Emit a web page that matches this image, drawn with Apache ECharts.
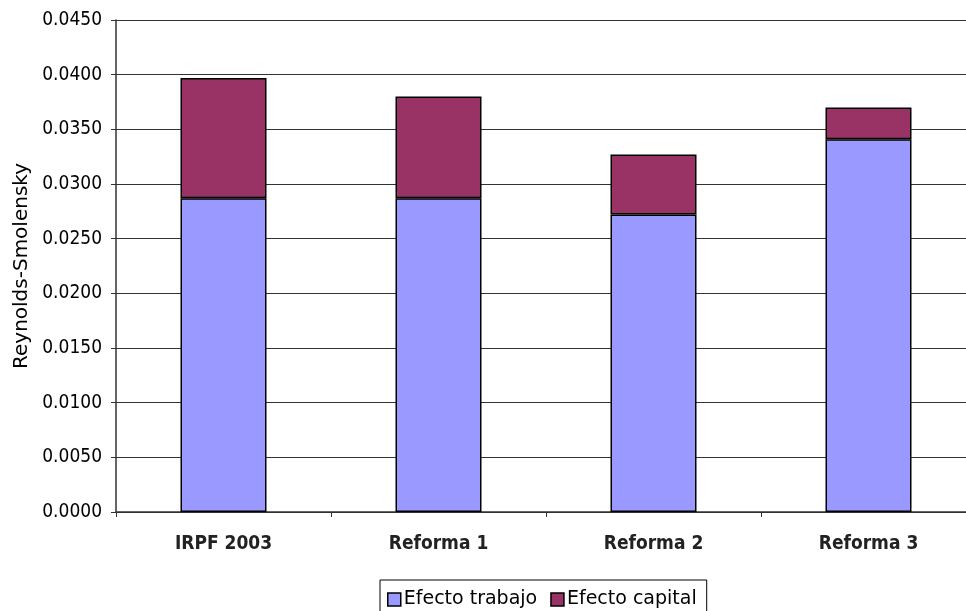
<!DOCTYPE html>
<html>
<head>
<meta charset="utf-8">
<script src="https://cdn.jsdelivr.net/npm/echarts@6/dist/echarts.min.js"></script>
<style>
  html, body { margin: 0; padding: 0; background: #fff; }
  #chart { width: 966px; height: 611px; }
</style>
</head>
<body>
<div id="chart"></div>
<script>
// Reynolds-Smolensky index split into labour and capital effects
const categories = ['IRPF 2003', 'Reforma 1', 'Reforma 2', 'Reforma 3'];
const efectoTrabajo = [0.0287, 0.0287, 0.0272, 0.0341];
const efectoCapital = [0.0110, 0.0093, 0.0055, 0.0029];
const seriesNames = ['Efecto trabajo', 'Efecto capital'];
const yAxisTitle = 'Reynolds-Smolensky';

const FONT = '"DejaVu Sans", Verdana, sans-serif';
const FONT_NARROW = '"DejaVu Sans Condensed", "DejaVu Sans", sans-serif';

const chart = echarts.init(document.getElementById('chart'), null, { renderer: 'canvas' });

chart.setOption({
  animation: false,
  backgroundColor: '#ffffff',
  // plot area runs slightly past the right edge of the canvas
  grid: {
    left: 116, top: 20, width: 860, height: 492,
    containLabel: false, outerBoundsMode: 'none'
  },
  legend: {
    data: seriesNames,
    left: 380,
    top: 580,
    itemWidth: 13,
    itemHeight: 13,
    itemGap: 13,
    padding: [10, 10, 14, 7],
    borderColor: '#000',
    borderWidth: 1,
    borderRadius: 0,
    icon: 'rect',
    itemStyle: { borderColor: '#000', borderWidth: 1.5 },
    textStyle: { fontFamily: FONT, fontSize: 19, color: '#000', padding: [0, 0, 0, -2] }
  },
  xAxis: {
    type: 'category',
    data: categories,
    axisLine: { lineStyle: { color: '#333', width: 1.5 } },
    axisTick: { show: true, alignWithLabel: false, length: 5, lineStyle: { color: '#333' } },
    axisLabel: { fontFamily: FONT_NARROW, fontSize: 19, fontWeight: 'bold', color: '#222', margin: 23 },
    splitLine: { show: false }
  },
  yAxis: {
    type: 'value',
    min: 0,
    max: 0.045,
    interval: 0.005,
    name: yAxisTitle,
    nameLocation: 'middle',
    nameGap: 82,
    nameRotate: 90,
    nameTextStyle: { fontFamily: FONT, fontSize: 20, color: '#000' },
    axisLine: { show: true, lineStyle: { color: '#333', width: 1.5 } },
    axisTick: { show: true, length: 5, lineStyle: { color: '#333' } },
    axisLabel: {
      fontFamily: FONT_NARROW, fontSize: 19, color: '#000', margin: 14,
      formatter: v => v.toFixed(4)
    },
    splitLine: { show: true, lineStyle: { color: '#333', width: 1.2 } }
  },
  series: [
    {
      name: seriesNames[0],
      type: 'bar',
      stack: 'rs',
      barWidth: 86,
      data: efectoTrabajo,
      itemStyle: { color: '#9999FF', borderColor: '#000', borderWidth: 1.5 }
    },
    {
      name: seriesNames[1],
      type: 'bar',
      stack: 'rs',
      barWidth: 86,
      data: efectoCapital,
      itemStyle: { color: '#993366', borderColor: '#000', borderWidth: 1.5 }
    }
  ]
});
</script>
</body>
</html>
